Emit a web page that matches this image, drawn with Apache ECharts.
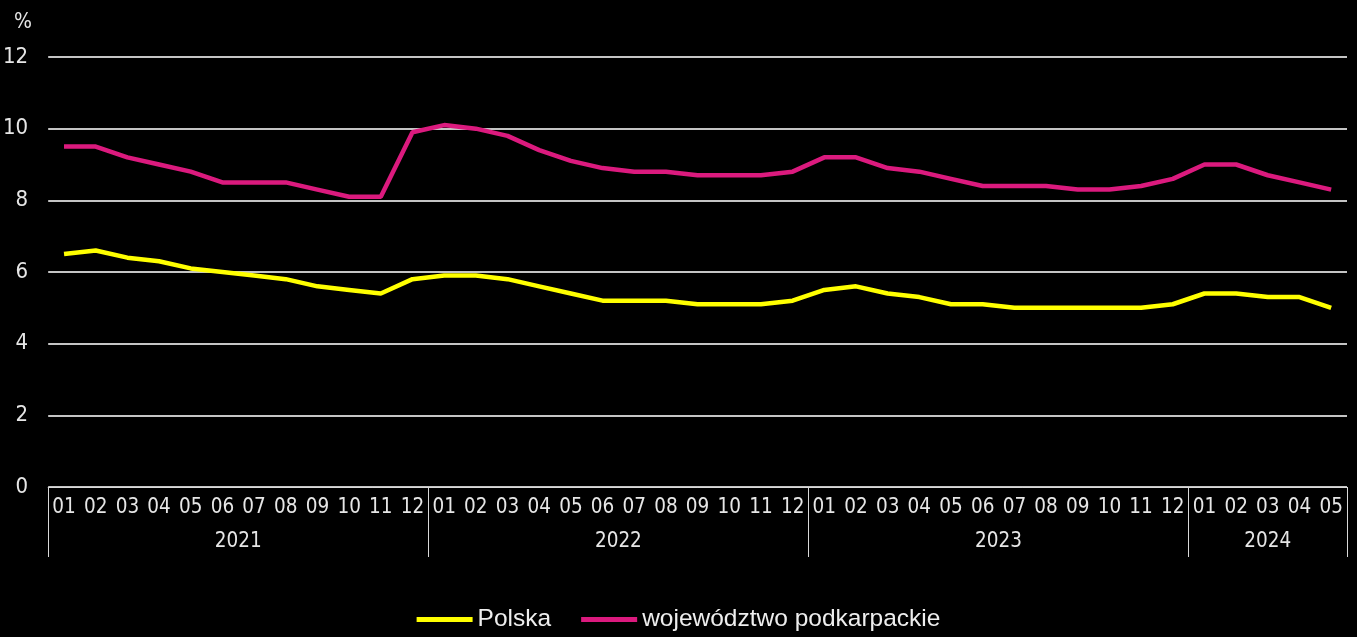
<!DOCTYPE html>
<html>
<head>
<meta charset="utf-8">
<script src="https://cdn.jsdelivr.net/npm/echarts@6/dist/echarts.min.js"></script>
<style>
html,body{margin:0;padding:0;background:#000;}
#chart{width:1357px;height:637px;}
</style>
</head>
<body>
<div id="chart"></div>
<script>
var months = ['01','02','03','04','05','06','07','08','09','10','11','12',
              '01','02','03','04','05','06','07','08','09','10','11','12',
              '01','02','03','04','05','06','07','08','09','10','11','12',
              '01','02','03','04','05'];
var years = ['2021','2022','2023','2024'];
var monthsPerYear = [12, 12, 12, 5];
var polska = [6.5,6.6,6.4,6.3,6.1,6.0,5.9,5.8,5.6,5.5,5.4,5.8,
              5.9,5.9,5.8,5.6,5.4,5.2,5.2,5.2,5.1,5.1,5.1,5.2,
              5.5,5.6,5.4,5.3,5.1,5.1,5.0,5.0,5.0,5.0,5.0,5.1,
              5.4,5.4,5.3,5.3,5.0];
var podkarpackie = [9.5,9.5,9.2,9.0,8.8,8.5,8.5,8.5,8.3,8.1,8.1,9.9,
                    10.1,10.0,9.8,9.4,9.1,8.9,8.8,8.8,8.7,8.7,8.7,8.8,
                    9.2,9.2,8.9,8.8,8.6,8.4,8.4,8.4,8.3,8.3,8.4,8.6,
                    9.0,9.0,8.7,8.5,8.3];
var yTicks = [0, 2, 4, 6, 8, 10, 12];

// year boundaries and centres derived from month counts
var boundaries = [0], centres = [];
var acc = 0;
monthsPerYear.forEach(function (n) { centres.push(acc + n / 2); acc += n; boundaries.push(acc); });

var labelFont = '"DejaVu Sans Condensed", Roboto, sans-serif';
var chart = echarts.init(document.getElementById('chart'));
chart.setOption({
  backgroundColor: '#000000',
  animation: false,
  title: {
    text: '%', left: 9, top: 7,
    textStyle: { color: '#e6e6e6', fontFamily: labelFont, fontSize: 21, fontWeight: 'normal' }
  },
  grid: { left: 48, right: 10, top: 57, bottom: 150, containLabel: false },
  legend: {
    bottom: 0,
    left: 'center',
    icon: 'rect',
    itemWidth: 56,
    itemHeight: 5,
    itemGap: 30,
    textStyle: { color: '#eeeeee', fontFamily: 'Liberation Sans', fontSize: 24.5 },
    data: ['Polska', 'województwo podkarpackie']
  },
  xAxis: [{
    type: 'category',
    data: months,
    boundaryGap: true,
    axisLine: { show: true, lineStyle: { color: '#d9d9d9', width: 1 } },
    axisTick: { show: false },
    axisLabel: { color: '#e6e6e6', fontFamily: labelFont, fontSize: 20.5, margin: 10, interval: 0 },
    splitLine: { show: false }
  }, {
    type: 'value',
    min: 0,
    max: months.length,
    position: 'bottom',
    axisLine: { show: false },
    splitLine: { show: false },
    axisTick: { show: true, customValues: boundaries, length: 70, inside: false,
                lineStyle: { color: '#d9d9d9', width: 1 } },
    axisLabel: {
      show: true, customValues: centres, margin: 44,
      color: '#e6e6e6', fontFamily: labelFont, fontSize: 20.5,
      formatter: function (v) {
        var i = centres.indexOf(v);
        return i >= 0 ? years[i] : '';
      }
    }
  }],
  yAxis: {
    type: 'value',
    min: yTicks[0],
    max: yTicks[yTicks.length - 1],
    interval: 2,
    axisLine: { show: false },
    axisTick: { show: false },
    axisLabel: { color: '#e6e6e6', fontFamily: labelFont, fontSize: 22, margin: 20 },
    splitLine: { show: true, lineStyle: { color: '#c4c4c4', width: 2 } }
  },
  series: [{
    name: 'Polska',
    type: 'line',
    data: polska,
    symbol: 'none',
    itemStyle: { color: '#ffff00' },
    lineStyle: { color: '#ffff00', width: 4.5 },
    z: 3
  }, {
    name: 'województwo podkarpackie',
    type: 'line',
    data: podkarpackie,
    symbol: 'none',
    itemStyle: { color: '#db1a7e' },
    lineStyle: { color: '#db1a7e', width: 4.5 },
    z: 3
  }]
});
</script>
</body>
</html>
